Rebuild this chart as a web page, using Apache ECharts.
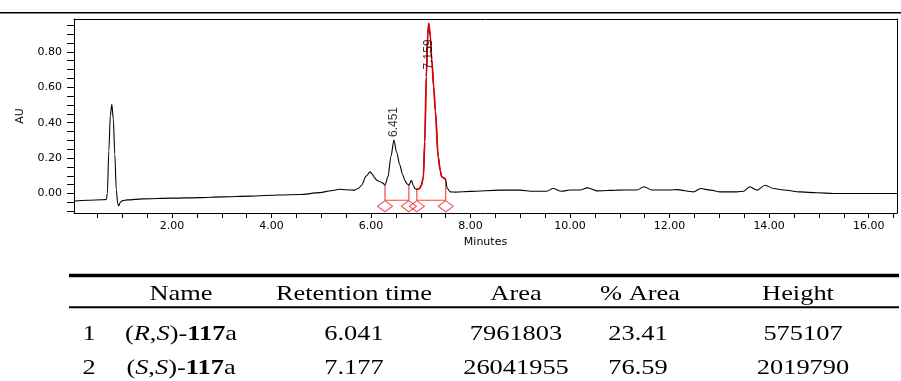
<!DOCTYPE html>
<html>
<head>
<meta charset="utf-8">
<script src="https://cdn.jsdelivr.net/npm/echarts@6/dist/echarts.min.js"></script>
<style>
html,body{margin:0;padding:0;background:#fff;}
#chart{width:901px;height:381px;}
</style>
</head>
<body>
<div id="chart"></div>
<script>
// ---- chromatogram trace (minutes, AU) ----
const times = [0.03,0.3,0.6,0.68,0.70,0.73,0.76,0.79,0.82,0.85,0.88,0.91,0.93,0.96,1.01,1.1,1.41,2.0,2.56,3.0,3.56,4.16,4.57,4.97,5.2,5.37,5.5,5.67,5.75,5.81,5.9,5.98,6.03,6.07,6.12,6.18,6.23,6.28,6.34,6.40,6.46,6.51,6.58,6.63,6.68,6.72,6.76,6.81,6.85,6.88,6.92,6.97,7.01,7.05,7.08,7.11,7.14,7.16,7.19,7.22,7.26,7.29,7.35,7.39,7.42,7.46,7.48,7.50,7.53,7.59,7.7,8.0,8.59,8.99,9.26,9.53,9.66,9.83,10.0,10.2,10.35,10.54,10.94,11.34,11.49,11.64,12.01,12.15,12.48,12.62,12.82,13.02,13.35,13.49,13.61,13.76,13.92,14.09,14.29,14.63,14.96,15.3,16.57];
const au    = [-0.042,-0.038,-0.035,-0.034,0.0,0.24,0.44,0.504,0.42,0.22,0.02,-0.06,-0.07,-0.05,-0.04,-0.036,-0.030,-0.026,-0.023,-0.019,-0.015,-0.008,-0.006,0.005,0.016,0.024,0.021,0.019,0.03,0.047,0.098,0.122,0.108,0.088,0.074,0.066,0.06,0.048,0.094,0.21,0.302,0.236,0.16,0.11,0.075,0.055,0.047,0.075,0.045,0.028,0.023,0.028,0.045,0.09,0.29,0.66,0.9,0.96,0.89,0.755,0.6,0.472,0.207,0.13,0.094,0.088,0.085,0.075,0.03,0.009,0.008,0.012,0.019,0.019,0.013,0.013,0.028,0.013,0.02,0.02,0.032,0.015,0.019,0.02,0.038,0.02,0.02,0.022,0.009,0.028,0.019,0.009,0.009,0.013,0.038,0.019,0.047,0.028,0.02,0.009,0.004,0.0,0.0];

// ---- integrated peaks ----
const peakRT = [6.451, 7.159];
const peakApexTime = [6.46, 7.16];
const peakStart = [6.28, 6.92];
const peakEnd = [6.76, 7.50];
const integrationBase = -0.038;
const highlightedPeak = 1; // drawn in red

// ---- axis ticks ----
const xTicks = [0.5,1,1.5,2,2.5,3,3.5,4,4.5,5,5.5,6,6.5,7,7.5,8,8.5,9,9.5,10,10.5,11,11.5,12,12.5,13,13.5,14,14.5,15,15.5,16,16.5];
const xLabels = [2,4,6,8,10,12,14,16];
const yTicks = [-0.10,-0.05,0.00,0.05,0.10,0.15,0.20,0.25,0.30,0.35,0.40,0.45,0.50,0.55,0.60,0.65,0.70,0.75,0.80,0.85,0.90,0.95];
const yLabels = [0.00,0.20,0.40,0.60,0.80];

// ---- results table ----
const tableHeaders = ['Name', 'Retention time', 'Area', '% Area', 'Height'];
const tableIndex = ['1', '2'];
const tableNames = ['(R,S)-117a', '(S,S)-117a'];
const tableRT = ['6.041', '7.177'];
const tableArea = ['7961803', '26041955'];
const tablePctArea = ['23.41', '76.59'];
const tableHeight = ['575107', '2019790'];

// ---- build ----
const trace = times.map((t, i) => [t, au[i]]);
function valueAt(t) {
  let best = 0;
  for (let i = 0; i < times.length; i++) if (Math.abs(times[i] - t) < Math.abs(times[best] - t)) best = i;
  return au[best];
}
const redTrace = trace.filter(p => p[0] >= peakStart[highlightedPeak] && p[0] <= peakEnd[highlightedPeak]);

const dropLines = [];
const baseLines = [];
const diamonds = [];
peakStart.forEach((s, k) => {
  const e = peakEnd[k];
  dropLines.push([[s, valueAt(s)], [s, integrationBase]]);
  dropLines.push([[e, valueAt(e)], [e, integrationBase]]);
  baseLines.push([[s, integrationBase], [e, integrationBase]]);
  diamonds.push([s, integrationBase]);
  diamonds.push([e, integrationBase]);
});
const integLineData = [];
dropLines.concat(baseLines).forEach(seg => {
  integLineData.push(seg[0], seg[1], [null, null]);
});

// label offsets are in the rotated label frame: [-d,0] moves down by d, [d,0] up by d
const peakLabelData = peakRT.map((rt, i) => ({
  value: [peakApexTime[i], valueAt(peakApexTime[i])],
  rt: rt,
  label: { offset: i === 0 ? [3, 0] : [-46, 0] }
}));

const axisFont = 'DejaVu Sans';
const serif = 'Liberation Serif';

const option = {
  animation: false,
  backgroundColor: '#fff',
  grid: { left: 74, right: 4, top: 19, bottom: 168 },
  xAxis: [{
    type: 'value', min: 0.03, max: 16.57,
    name: 'Minutes', nameLocation: 'middle', nameGap: 22,
    nameTextStyle: { fontFamily: axisFont, fontSize: 11, color: '#000' },
    axisLine: { show: true, onZero: false, lineStyle: { color: '#000', width: 1 } },
    axisTick: { show: true, customValues: xTicks, length: 5, lineStyle: { color: '#000' } },
    axisLabel: { customValues: xLabels, formatter: v => v.toFixed(2), margin: 8,
      fontFamily: axisFont, fontSize: 11, color: '#000' },
    splitLine: { show: false }
  }, {
    type: 'value', position: 'top', min: 0.03, max: 16.57,
    axisLine: { show: true, onZero: false, lineStyle: { color: '#000', width: 1 } },
    axisTick: { show: false }, axisLabel: { show: false }, splitLine: { show: false }
  }],
  yAxis: [{
    type: 'value', min: -0.11, max: 0.985,
    name: 'AU', nameLocation: 'middle', nameGap: 48,
    nameTextStyle: { fontFamily: axisFont, fontSize: 11, color: '#000' },
    axisLine: { show: true, onZero: false, lineStyle: { color: '#000', width: 1 } },
    axisTick: { show: true, customValues: yTicks, length: 7, lineStyle: { color: '#000' } },
    axisLabel: { customValues: yLabels, formatter: v => v.toFixed(2), margin: 12,
      fontFamily: axisFont, fontSize: 11, color: '#000' },
    splitLine: { show: false }
  }, {
    type: 'value', position: 'right', min: -0.11, max: 0.985,
    axisLine: { show: true, onZero: false, lineStyle: { color: '#000', width: 1 } },
    axisTick: { show: false }, axisLabel: { show: false }, splitLine: { show: false }
  }],
  series: [{
    name: 'trace', type: 'line', data: trace, showSymbol: false, symbol: 'none',
    smooth: 0.3, smoothMonotone: 'x',
    lineStyle: { color: '#000', width: 1.1 }, z: 3
  }, {
    name: 'integration', type: 'line', data: integLineData, showSymbol: false, symbol: 'none',
    connectNulls: false,
    lineStyle: { color: '#f04848', width: 1.2 }, z: 2
  }, {
    name: 'peak', type: 'line', data: redTrace, showSymbol: false, symbol: 'none',
    smooth: 0.3, smoothMonotone: 'x',
    lineStyle: { color: '#e00000', width: 1.7 }, z: 4
  }, {
    name: 'markers', type: 'scatter', data: diamonds, symbol: 'diamond',
    symbolSize: [15, 11], symbolOffset: [0, 6],
    itemStyle: { color: 'rgba(255,255,255,0)', borderColor: '#ee2a2a', borderWidth: 1.2 }, z: 5
  }, {
    name: 'labels', type: 'scatter', data: peakLabelData, symbolSize: 0,
    label: {
      show: true, position: 'inside', rotate: 90, align: 'left', verticalAlign: 'middle',
      formatter: p => p.data.rt.toFixed(3),
      fontFamily: 'Liberation Sans', fontSize: 12, color: '#000'
    }, z: 6
  }],
  graphic: []
};

// top rule line and table
const g = [];
g.push({ type: 'line', shape: { x1: 0, y1: 12.7, x2: 901, y2: 12.7 }, style: { stroke: '#000', lineWidth: 1.6 } });
g.push({ type: 'line', shape: { x1: 69, y1: 275.5, x2: 899, y2: 275.5 }, style: { stroke: '#000', lineWidth: 3.5 } });
g.push({ type: 'line', shape: { x1: 69, y1: 307.3, x2: 899, y2: 307.3 }, style: { stroke: '#000', lineWidth: 2 } });

const headerX = [181, 354, 516, 640, 798];
const rowY = [334.5, 368.5];
const headerY = 294;
const sx = 1.2;
function txt(x, y, text, extra) {
  return Object.assign({
    type: 'text', x: x, y: y, scaleX: sx, scaleY: 1,
    style: Object.assign({ text: text, fill: '#000', font: '22px "' + serif + '"',
      textAlign: 'center', textVerticalAlign: 'middle' }, extra || {})
  });
}
tableHeaders.forEach((h, i) => g.push(txt(headerX[i], headerY, h)));
const nameRich = {
  i: { fontFamily: serif, fontSize: 22, fontStyle: 'italic', fill: '#000' },
  n: { fontFamily: serif, fontSize: 22, fill: '#000' },
  b: { fontFamily: serif, fontSize: 22, fontWeight: 'bold', fill: '#000' }
};
function richName(s) {
  const m = s.match(/^\((\w),(\w)\)-(\d+)(\w)$/);
  return '{n|(}{i|' + m[1] + '}{n|,}{i|' + m[2] + '}{n|)-}{b|' + m[3] + '}{n|' + m[4] + '}';
}
const valX = [89, 181, 354, 516, 638, 803];
tableIndex.forEach((idx, r) => {
  const y = rowY[r];
  g.push(txt(valX[0], y, idx));
  g.push(txt(valX[1], y, richName(tableNames[r]), { rich: nameRich }));
  g.push(txt(valX[2], y, tableRT[r]));
  g.push(txt(valX[3], y, tableArea[r]));
  g.push(txt(valX[4], y, tablePctArea[r]));
  g.push(txt(valX[5], y, tableHeight[r]));
});
option.graphic = g;

const chart = echarts.init(document.getElementById('chart'), null, { renderer: 'canvas' });
chart.setOption(option);
</script>
</body>
</html>
